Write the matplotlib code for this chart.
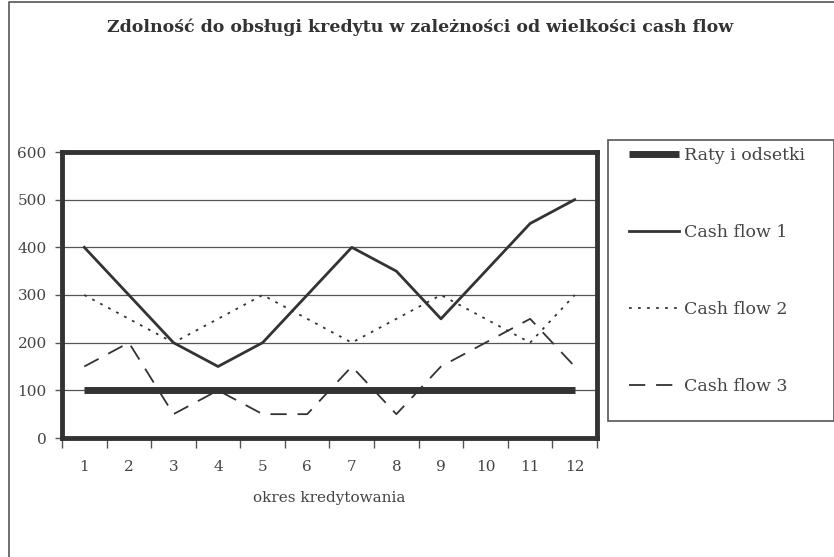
import matplotlib
matplotlib.use("Agg")
import matplotlib.pyplot as plt
from matplotlib.patches import Rectangle
from matplotlib.lines import Line2D

periods = [1, 2, 3, 4, 5, 6, 7, 8, 9, 10, 11, 12]
raty = [100] * 12
cash_flow_1 = [400, 300, 200, 150, 200, 300, 400, 350, 250, 350, 450, 500]
cash_flow_2 = [300, 250, 200, 250, 300, 250, 200, 250, 300, 250, 200, 300]
cash_flow_3 = [150, 200, 50, 100, 50, 50, 150, 50, 150, 200, 250, 150]
y_ticks = [0, 100, 200, 300, 400, 500, 600]
title = "Zdolność do obsługi kredytu w zależności od wielkości cash flow"
xlabel = "okres kredytowania"
labels = ["Raty i odsetki", "Cash flow 1", "Cash flow 2", "Cash flow 3"]

W, H = 834, 557
fig = plt.figure(figsize=(W / 100, H / 100), dpi=100)
c = "#333333"
font = "DejaVu Serif"

# outer frame (only left and top edges visible)
fig.lines.append(Line2D([9 / W, 9 / W, 1], [0, 1 - 2 / H, 1 - 2 / H], transform=fig.transFigure,
                        color="#555555", lw=1.2))

ax = fig.add_axes([62 / W, 1 - 438 / H, (597 - 62) / W, (438 - 152) / H])
ax.set_xlim(0.5, 12.5)
ax.set_ylim(0, 600)
ax.set_yticks(y_ticks)
ax.set_yticklabels([str(v) for v in y_ticks], fontsize=11, family=font, color="#444444", fontweight="light")
ax.set_xticks(periods)
ax.set_xticklabels([str(p) for p in periods], fontsize=11, family=font, color="#444444")
ax.set_xticks([p + 0.5 for p in [0] + periods], minor=True)
ax.tick_params(axis="x", which="major", length=0, pad=16)
ax.tick_params(axis="x", which="minor", length=7, width=1, color="#555555", direction="out")
ax.tick_params(axis="y", length=5, width=1, color="#555555", pad=6)
for y in y_ticks[1:-1]:
    ax.axhline(y, color="#555555", lw=0.9, zorder=1)
for s in ax.spines.values():
    s.set_linewidth(3.5)
    s.set_color(c)

l0, = ax.plot(periods, raty, color=c, lw=5, solid_capstyle="butt", zorder=3)
l1, = ax.plot(periods, cash_flow_1, color=c, lw=2, zorder=3)
l2, = ax.plot(periods, cash_flow_2, color=c, lw=1.3, linestyle=(0, (1.5, 3.5)), zorder=3)
l3, = ax.plot(periods, cash_flow_3, color=c, lw=1.3, linestyle=(0, (9, 6)), zorder=3)

ax.set_xlabel(xlabel, fontsize=11, family=font, color="#444444", labelpad=12)

fig.text(420 / W, 1 - 27 / H, title, ha="center", va="center", fontsize=12.5,
         family=font, fontweight="bold", color="#333333")

# legend box
fig.patches.append(Rectangle((608 / W, 1 - 421 / H), (W - 608) / W, (421 - 140) / H,
                             transform=fig.transFigure, fill=False, edgecolor="#555555", lw=1.2))
handles = [Line2D([], [], color=c, lw=5, solid_capstyle="butt"),
           Line2D([], [], color=c, lw=2),
           Line2D([], [], color=c, lw=1.3, linestyle=(0, (1.5, 3.5))),
           Line2D([], [], color=c, lw=1.3, linestyle=(0, (9, 6)))]
leg = fig.legend(handles, labels, loc="upper left", bbox_to_anchor=(622 / W, 1 - 140 / H),
                 frameon=False, prop={"family": font, "size": 12.5}, handlelength=2.9,
                 handletextpad=0.3, labelspacing=3.45, borderaxespad=0)
for t in leg.get_texts():
    t.set_color("#444444")

fig.savefig("out.png", dpi=100)
